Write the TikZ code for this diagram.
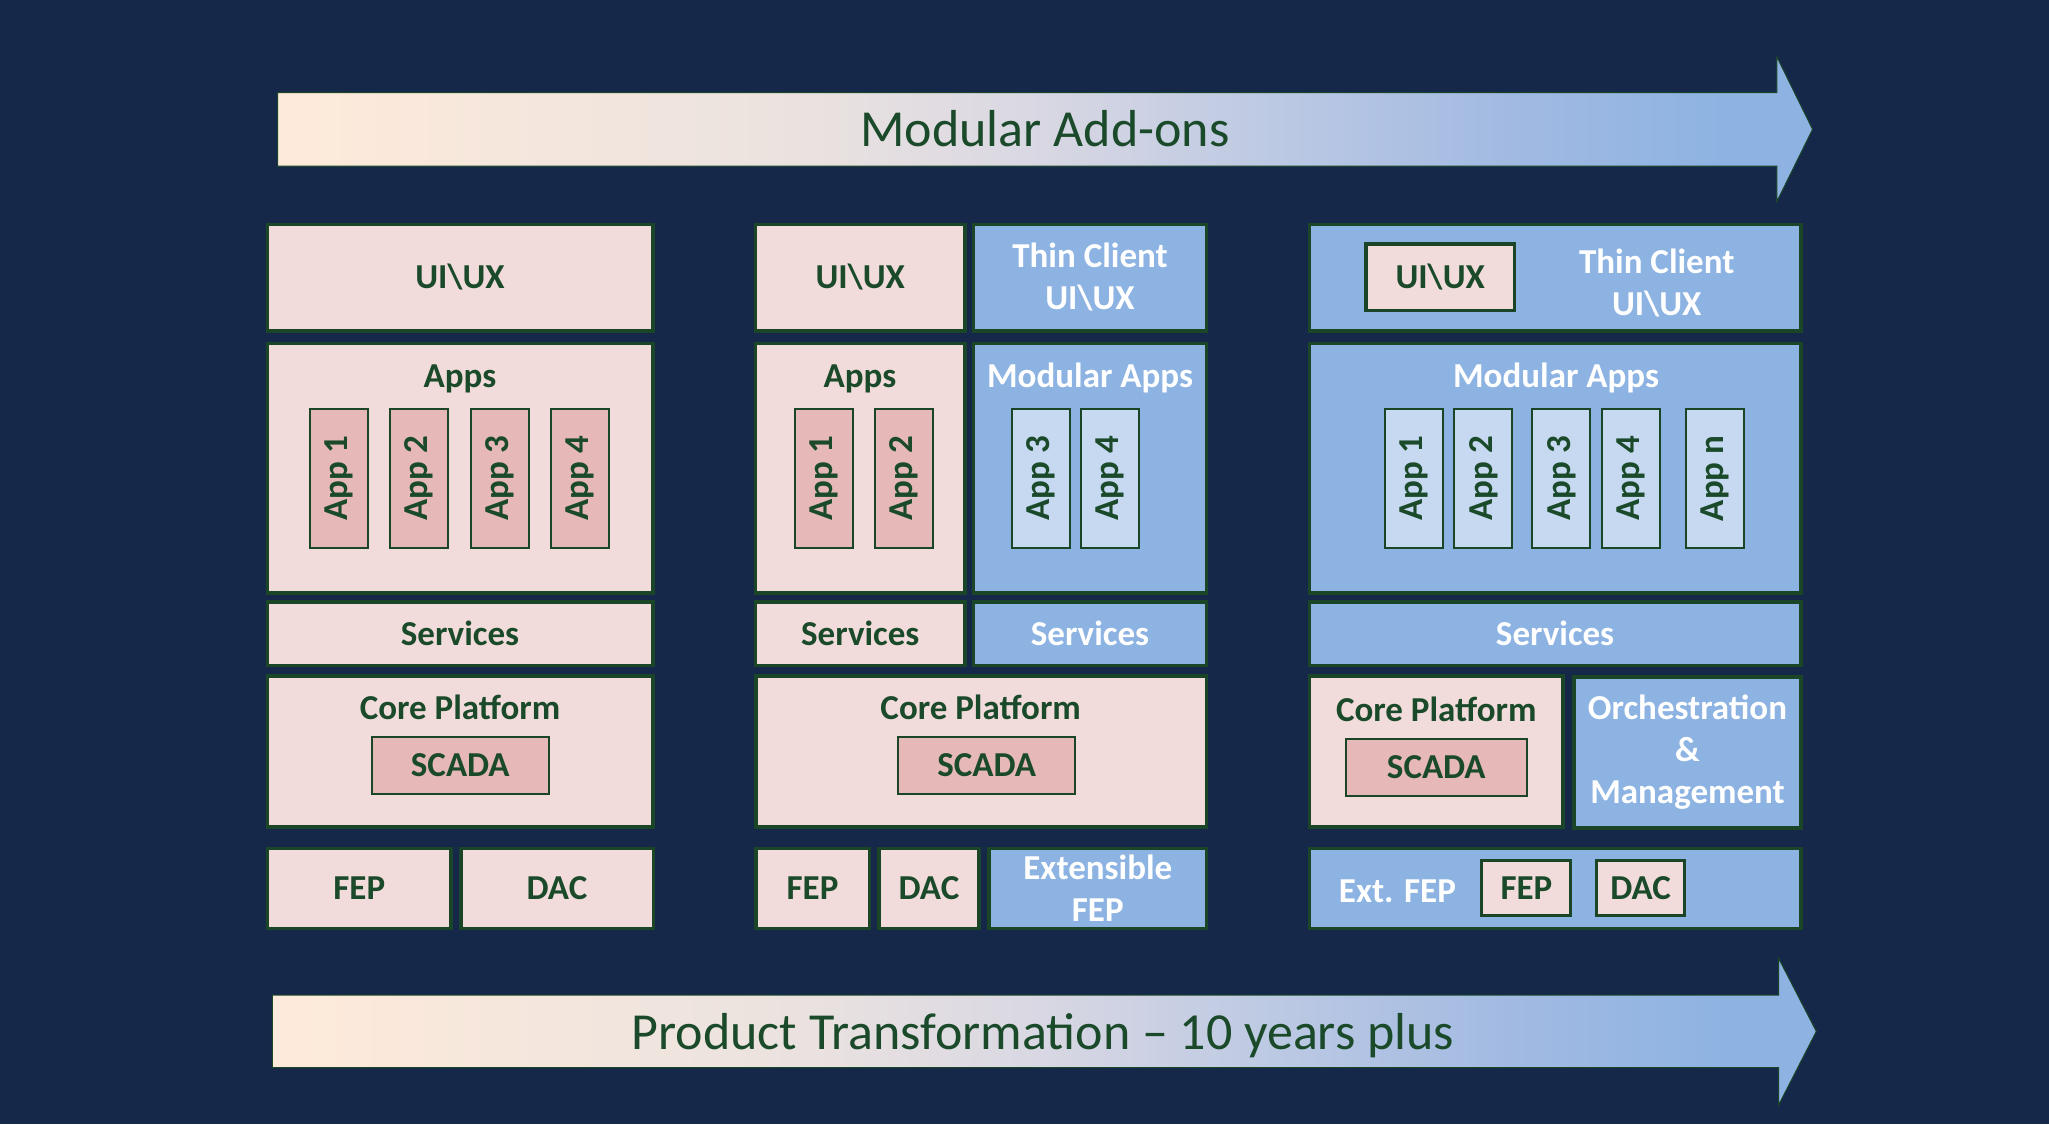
\documentclass[tikz,border=0pt]{standalone}
\usepackage{fontspec}
\setmainfont{Carlito}
\definecolor{navy}{HTML}{15284A}
\definecolor{bord}{HTML}{1A4527}
\definecolor{txtg}{HTML}{1A4A2A}
\definecolor{pinkf}{HTML}{F2DCDB}
\definecolor{pinkd}{HTML}{E6B9B8}
\definecolor{bluef}{HTML}{8DB3E2}
\definecolor{bluel}{HTML}{C6D9F1}
\definecolor{ashA}{HTML}{FDEADA}
\definecolor{ashB}{HTML}{EAE2E0}
\definecolor{ashC}{HTML}{D8D7E3}
\definecolor{ashD}{HTML}{BCC9E3}
\definecolor{ashE}{HTML}{A2BAE2}
\definecolor{ashF}{HTML}{8EB3E2}
\pgfdeclarehorizontalshading{arrowshade}{100bp}{color(0bp)=(ashA); color(26bp)=(ashA); color(42.5bp)=(ashB); color(50bp)=(ashC); color(57.5bp)=(ashD); color(65bp)=(ashE); color(72bp)=(ashF); color(100bp)=(ashF)}
\newcommand\bxf{\fontsize{35}{42}\selectfont\bfseries}
\newcommand\arf{\fontsize{52}{60}\selectfont}
\begin{document}
\begin{tikzpicture}[x=1pt,y=-1pt,
  box/.style={draw=bord, line width=3.5pt, inner sep=0pt, font=\bxf, align=center},
  pinkbox/.style={box, fill=pinkf, text=txtg},
  bluebox/.style={box, fill=bluef, text=white},
  appbox/.style={draw=bord, line width=2pt, inner sep=0pt, minimum width=139.3, minimum height=58, rotate=90, font=\bxf, text=txtg},
  pinkapp/.style={appbox, fill=pinkd},
  blueapp/.style={appbox, fill=bluel},
  scadabox/.style={draw=bord, line width=2pt, inner sep=0pt, fill=pinkd, text=txtg, font=\bxf, minimum height=57.3},
  lbl/.style={inner sep=0pt, font=\bxf, text=txtg, align=center},
  wlbl/.style={inner sep=0pt, font=\bxf, text=white, align=center},
  bigarrow/.style={shading=arrowshade, draw=bord, line width=1pt},
  bigtxt/.style={inner sep=0pt, font=\arf, text=txtg}]
\fill[navy] (0,0) rectangle (2049,1124);
\useasboundingbox (0,0) rectangle (2049,1124);

% top arrow
\path[bigarrow] (277.7,92.7) -- (1776.8,92.7) -- (1776.8,56.7) -- (1812.5,129.3) -- (1776.8,201.7) -- (1776.8,166) -- (277.7,166) -- cycle;
\node[bigtxt] (addons) at (1045,129) {Modular Add-ons};

% column 1
\node[pinkbox, minimum width=385.5, minimum height=106.5] (ui1) at (460,277.5) {UI\textbackslash UX};
\node[pinkbox, minimum width=385.5, minimum height=249.5] (apps1) at (460,468) {};
\node[lbl] (apps1t) at (460,378.5) {Apps};
\node[pinkapp] (a11) at (338.5,478.3) {App 1};
\node[pinkapp] (a12) at (419,478.3) {App 2};
\node[pinkapp] (a13) at (499.5,478.3) {App 3};
\node[pinkapp] (a14) at (580,478.3) {App 4};
\node[pinkbox, minimum width=385.5, minimum height=63.8] (serv1) at (460,633.7) {Services};
\node[pinkbox, minimum width=385.5, minimum height=151] (core1) at (460,751.25) {};
\node[lbl] (core1t) at (460,707.3) {Core Platform};
\node[scadabox, minimum width=177.3] (scada1) at (460.3,765.4) {SCADA};
\node[pinkbox, minimum width=183.2, minimum height=80] (fep1) at (359.3,888.25) {FEP};
\node[pinkbox, minimum width=192.5, minimum height=80] (dac1) at (557,888.25) {DAC};

% column 2
\node[pinkbox, minimum width=209.2, minimum height=106.5] (ui2) at (860.3,277.5) {UI\textbackslash UX};
\node[bluebox, minimum width=233.1, minimum height=106.5] (tc2) at (1090,277.5) {Thin Client\\UI\textbackslash UX};
\node[pinkbox, minimum width=209.2, minimum height=249.5] (apps2) at (860.3,468) {};
\node[lbl] (apps2t) at (860,378.5) {Apps};
\node[pinkapp] (a21) at (824,478.3) {App 1};
\node[pinkapp] (a22) at (904,478.3) {App 2};
\node[bluebox, minimum width=233.1, minimum height=249.5] (mapps2) at (1090,468) {};
\node[wlbl] (mapps2t) at (1090,378) {Modular Apps};
\node[blueapp] (a23) at (1040.7,478.3) {App 3};
\node[blueapp] (a24) at (1110,478.3) {App 4};
\node[pinkbox, minimum width=209.2, minimum height=63.8] (serv2a) at (860.3,633.7) {Services};
\node[bluebox, minimum width=233.1, minimum height=63.8] (serv2b) at (1090,633.7) {Services};
\node[pinkbox, minimum width=450.8, minimum height=151] (core2) at (981.2,751.25) {};
\node[lbl] (core2t) at (980.7,707.3) {Core Platform};
\node[scadabox, minimum width=176.7] (scada2) at (986.7,765.4) {SCADA};
\node[pinkbox, minimum width=113.5, minimum height=80] (fep2) at (812.5,888.25) {FEP};
\node[pinkbox, minimum width=99.9, minimum height=80] (dac2) at (929,888.25) {DAC};
\node[bluebox, minimum width=217.5, minimum height=80] (ext2) at (1097.8,888.25) {Extensible\\FEP};

% column 3
\node[bluebox, minimum width=491.7, minimum height=106.5] (tc3) at (1555.1,277.5) {};
\node[pinkbox, minimum width=148.2, minimum height=66.5] (ui3) at (1440.2,277.3) {UI\textbackslash UX};
\node[wlbl] (tc3t) at (1656.7,283) {Thin Client\\UI\textbackslash UX};
\node[bluebox, minimum width=491.7, minimum height=249.5] (mapps3) at (1555.1,468) {};
\node[wlbl] (mapps3t) at (1556,378) {Modular Apps};
\node[blueapp] (a31) at (1413.7,478.3) {App 1};
\node[blueapp] (a32) at (1483.3,478.3) {App 2};
\node[blueapp] (a33) at (1561.3,478.3) {App 3};
\node[blueapp] (a34) at (1631.2,478.3) {App 4};
\node[blueapp] (a3n) at (1715.3,478.3) {App n};
\node[bluebox, minimum width=491.7, minimum height=63.8] (serv3) at (1555.1,633.7) {Services};
\node[pinkbox, minimum width=253.5, minimum height=151] (core3) at (1436,751.25) {};
\node[lbl] (core3t) at (1436.3,709.3) {Core Platform};
\node[scadabox, minimum width=180.6, minimum height=57] (scada3) at (1436.3,767.2) {SCADA};
\node[bluebox, minimum width=226.8, minimum height=151] (orch3) at (1687.5,752.5) {Orchestration\\\&\\Management};
\node[bluebox, minimum width=491.7, minimum height=80] (ext3) at (1555.1,888.25) {};
\node[wlbl] (ext3t) at (1397.4,891) {Ext. FEP};
\node[pinkbox, line width=3pt, minimum width=89, minimum height=55.3] (fep3) at (1526.4,888.2) {FEP};
\node[pinkbox, line width=3pt, minimum width=87.6, minimum height=55.3] (dac3) at (1640.7,888.2) {DAC};

% bottom arrow
\path[bigarrow] (272.4,995) -- (1778.6,995) -- (1778.6,958.3) -- (1816.3,1031.4) -- (1778.6,1105) -- (1778.6,1067.7) -- (272.4,1067.7) -- cycle;
\node[bigtxt] (transf) at (1043,1036) {Product Transformation -- 10 years plus};
\end{tikzpicture}
\end{document}
